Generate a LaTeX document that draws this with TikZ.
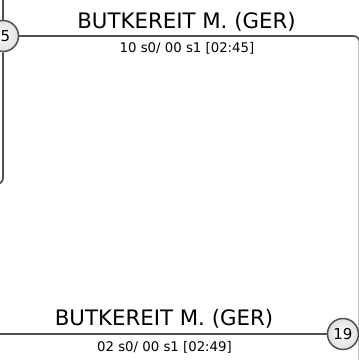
\documentclass[tikz,border=0pt]{standalone}
\usepackage{fontspec}
\setmainfont{DejaVu Sans}
\usetikzlibrary{positioning,calc}
\definecolor{linegray}{HTML}{505050}
\tikzset{
seed/.style={
circle,
draw=linegray,
line width=1.5pt,
inner color=white,outer color=gray!25,
minimum size=31pt,inner sep=0pt,
font={\fontsize{15pt}{17}\selectfont}},
line/.style={draw=linegray,line width=1.7pt,rounded corners=6pt},
player/.style={anchor=base,font={\fontsize{21.3pt}{24}\selectfont}},
score/.style={anchor=base,font={\fontsize{13.3pt}{15}\selectfont}}
}

\begin{document}
\begin{tikzpicture}[x=1pt,y=-1pt]
  \useasboundingbox (0,0) rectangle (359,360);
  % upper match
  \coordinate (topin) at (3,-2);
  \coordinate (leftout) at (-8,184);
  \coordinate (rightdown) at (359.6,365);
  \node[seed] (s5) at (3,36) {\hspace*{4.8pt}5};
  \draw[line] (topin) -- (s5.north);
  \draw[line] (s5.south) -- (3,184) -- (leftout);
  \draw[line] (s5.east) -- (359.6,36) -- (rightdown);
  \node[player] (p1) at (186.5,28.3) {BUTKEREIT M. (GER)};
  \node[score] (r1) at (187,52) {10 s0/ 00 s1 [02:45]};
  % lower match
  \coordinate (lowin) at (-2,334);
  \node[seed] (s19) at (343,334) {19};
  \draw[line] (lowin) -- (s19.west);
  \node[player] (p2) at (164,325.5) {BUTKEREIT M. (GER)};
  \node[score] (r2) at (164.5,351.5) {02 s0/ 00 s1 [02:49]};
\end{tikzpicture}
\end{document}
